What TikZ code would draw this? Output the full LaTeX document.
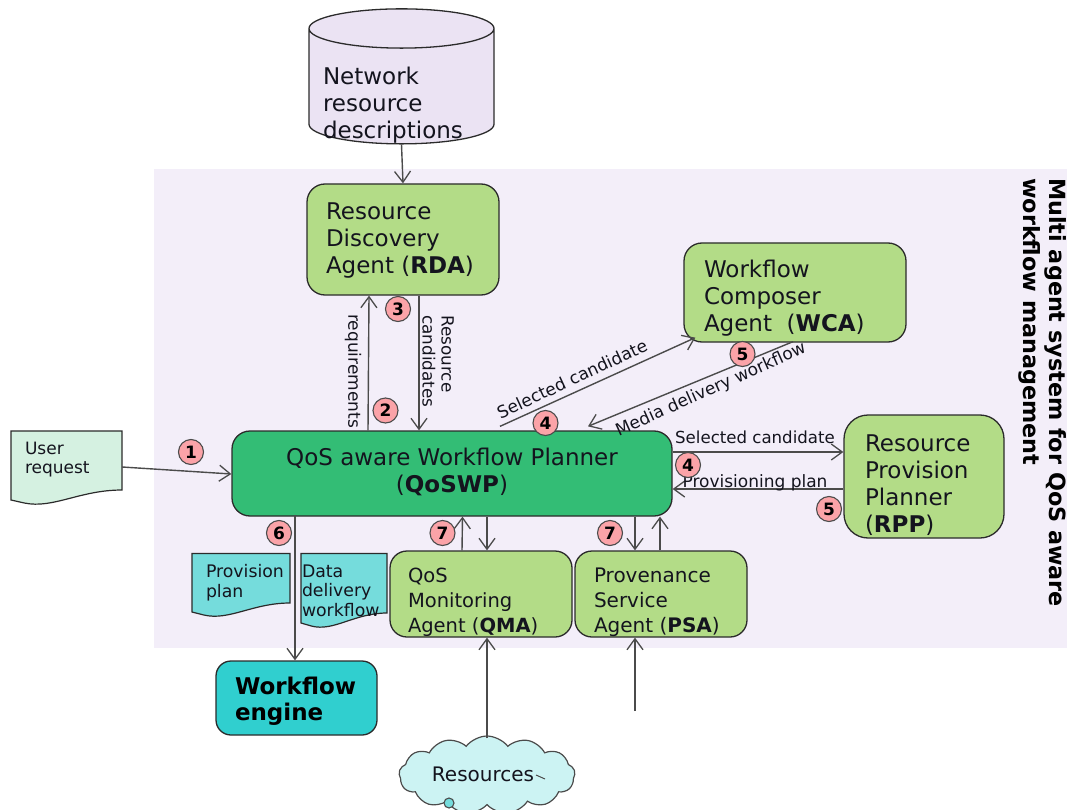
\documentclass[tikz,border=0pt]{standalone}
\usepackage{fontspec}
\setmainfont{DejaVu Sans}
\usetikzlibrary{arrows.meta,shapes.geometric,shapes.symbols}
\definecolor{bgpanel}{HTML}{F3EEF9}
\definecolor{dbfill}{HTML}{EBE3F3}
\definecolor{agentgreen}{HTML}{B3DC87}
\definecolor{plannergreen}{HTML}{33BD75}
\definecolor{enginecyan}{HTML}{30CFCF}
\definecolor{docteal}{HTML}{75DCDC}
\definecolor{docmint}{HTML}{D5F1E1}
\definecolor{cloudfill}{HTML}{CCF3F3}
\definecolor{badgepink}{HTML}{FBA3A8}
\definecolor{ink}{HTML}{2B2B2B}
\definecolor{txt}{HTML}{14141E}
\newcommand\fs[2]{\fontsize{#1}{#2}\selectfont}
% left aligned block: vertical shift, width, lines
\newcommand\tb[3]{\raisebox{#1pt}[0pt][0pt]{\makebox[#2pt][l]{\begin{tabular}[c]{@{}l@{}}#3\end{tabular}}}}
\newcommand\tbc[2]{\raisebox{#1pt}[0pt][0pt]{\makebox[0pt][c]{\begin{tabular}[c]{@{}c@{}}#2\end{tabular}}}}
\newcommand\docpath[6]{\draw[docline,fill=#6] (#1,#2) -- (#3,#2) -- (#3,#4) .. controls ({#1+0.62*(#3-#1)},#4) and ({#1+0.38*(#3-#1)},{#5+9}) .. ({#1+0.12*(#3-#1)},{#5+3}) -- (#1,#5) -- cycle;}
\tikzset{
  basebox/.style={draw=ink,line width=1.3pt,inner sep=0pt,text=txt},
  agent/.style={basebox,rounded corners=18pt,fill=agentgreen,font=\fs{23}{27}},
  smallagent/.style={basebox,rounded corners=17pt,fill=agentgreen,font=\fs{20}{25}},
  docline/.style={draw=ink,line width=1.2pt},
  doctext/.style={inner sep=0pt,text=txt,font=\fs{17.3}{19.5}},
  conn/.style={draw=ink!85,line width=1.4pt,-{Straight Barb[length=11pt,width=16pt,line width=1.3pt]}},
  edgelabel/.style={inner sep=0pt,text=txt,font=\fs{16.6}{19}},
  badge/.style={circle,draw=ink!85,line width=1.1pt,fill=badgepink,minimum size=25pt,inner sep=0pt,text=black,font=\fs{17}{17}\bfseries},
}
\begin{document}
\begin{tikzpicture}[x=1pt,y=-1pt]
\useasboundingbox (0,0) rectangle (1067,810);
\clip (0,0) rectangle (1067,810);
\fill[bgpanel] (154,169) rectangle (1067,648);

% data store
\node[cylinder,shape border rotate=90,aspect=0.25,draw=ink,line width=1.3pt,fill=dbfill,minimum width=185pt,minimum height=135pt,inner sep=0pt,text=txt,font=\fs{23}{27}] (db) at (401.5,86.5) {\tb{-26}{157}{Network\\resource\\descriptions}};

% agents
\node[agent,minimum width=192pt,minimum height=111pt] (rda) at (403,239.5) {\tb{-8}{154}{Resource\\Discovery\\Agent (\textbf{RDA})}};
\node[agent,minimum width=222pt,minimum height=99pt] (wca) at (795,292.5) {\tb{-13}{182}{Workflow\\Composer\\Agent\ \ (\textbf{WCA})}};
\node[agent,rounded corners=24pt,minimum width=160pt,minimum height=123pt] (rpp) at (924,476.5) {\tb{-16}{118}{Resource\\Provision\\Planner\\(\textbf{RPP})}};
\node[basebox,rounded corners=18pt,fill=plannergreen,font=\fs{23}{27},minimum width=440pt,minimum height=85pt] (qos) at (452,473.5) {\tbc{-6}{QoS aware Workflow Planner\\(\textbf{QoSWP})}};
\node[smallagent,font=\fs{19.5}{25},minimum width=182pt,minimum height=86pt] (qma) at (481,594) {\tb{-14}{146}{QoS\\Monitoring\\Agent (\textbf{QMA})}};
\node[smallagent,minimum width=172pt,minimum height=86pt] (psa) at (661,594) {\tb{-14}{134}{Provenance\\Service\\Agent (\textbf{PSA})}};
\node[basebox,rounded corners=15pt,fill=enginecyan,font=\fs{23}{26}\bfseries,minimum width=161pt,minimum height=74pt,text=black] (eng) at (296.5,698) {\tb{-11}{123}{Workflow\\engine}};

% documents
\docpath{11}{431}{122}{490}{500}{docmint}
\node[doctext,minimum width=111pt,minimum height=72pt,font=\fs{17}{19}] (ur) at (66.5,467) {\tb{2}{83}{User\\request}};
\docpath{192}{553.5}{290}{603}{612}{docteal}
\node[doctext,minimum width=98pt,minimum height=62pt] (pp) at (241,584) {\tb{-4}{70}{Provision\\plan}};
\docpath{301}{553.5}{387}{613}{623}{docteal}
\node[doctext,minimum width=86pt,minimum height=73pt] (dd) at (344,590) {\tb{-7}{84}{Data\\delivery\\workflow}};

% resources
\node[cloud,cloud puffs=13,cloud puff arc=105,aspect=2.1,draw=ink!85,line width=1.2pt,fill=cloudfill,minimum width=176pt,minimum height=78pt,inner sep=0pt,text=txt,font=\fs{20}{24}] (res) at (487,775) {\raisebox{2pt}{\hspace*{-8pt}Resources}};
\node[circle,draw=ink!85,line width=1.1pt,fill=docteal,minimum size=10pt,inner sep=0pt] (dot) at (449,803) {};
\draw[ink!85,line width=1pt] ([xshift=49,yshift=0]res.center) -- ([xshift=58,yshift=-4]res.center);
\coordinate (psafree) at (635,711);

% connectors
\draw[conn] (db.south) -- (rda.north);
\draw[conn] (ur.east) -- ([yshift=-0.5pt]qos.west);
\draw[conn] ([xshift=-84]qos.north) -- ([xshift=-34]rda.south);
\draw[conn] ([xshift=16]rda.south) -- ([xshift=-33]qos.north);
\draw[conn] ([xshift=48,yshift=4]qos.north) -- ([xshift=12,yshift=5]wca.south west);
\draw[conn] ([xshift=-2,yshift=1]wca.south) -- ([xshift=136,yshift=4]qos.north);
\draw[conn] ([yshift=21.5]qos.east) -- ([yshift=24.5]rpp.west);
\draw[conn] ([yshift=-12.5]rpp.west) -- ([yshift=-15.5]qos.east);
\draw[conn] ([xshift=-157,yshift=2]qos.south) -- ([xshift=-1.5]eng.north);
\draw[conn] ([xshift=-19]qma.north) -- ([xshift=10.5]qos.south);
\draw[conn] ([xshift=35]qos.south) -- ([xshift=6]qma.north);
\draw[conn] ([xshift=183]qos.south) -- ([xshift=-26]psa.north);
\draw[conn] ([xshift=-1]psa.north) -- ([xshift=208]qos.south);
\draw[conn] ([xshift=0,yshift=-3]res.north) -- ([xshift=6]qma.south);
\draw[conn] (psafree) -- ([xshift=-26]psa.south);

% connector labels
\node[edgelabel,rotate=-90,font=\fs{17}{19}] (lreq) at (353,371) {requirements};
\node[edgelabel,rotate=-90,font=\fs{16.8}{19}] (lcand) at (436,361.5) {\begin{tabular}{@{}l@{}}Resource\\candidates\end{tabular}};
\node[edgelabel,rotate=25,font=\fs{17}{19}] (lsel) at (572,379) {Selected candidate};
\node[edgelabel,rotate=24.2,font=\fs{17}{19}] (lmedia) at (711,390) {Media delivery workflow};
\node[edgelabel] (lsel2) at (755,437) {Selected candidate};
\node[edgelabel,font=\fs{17}{19}] (lprov) at (755,483) {Provisioning plan};

% title of the panel
\node[rotate=-90,anchor=north west,inner sep=0pt,align=left,text=black,font=\fs{22.3}{26}\bfseries] (title) at (1067,178) {Multi agent system for QoS aware\\workflow management};

% step badges
\node[badge] (b1) at (191,452) {1};
\node[badge] (b2) at (385.5,410.5) {2};
\node[badge] (b3) at (398,309) {3};
\node[badge] (b4a) at (545.5,423) {4};
\node[badge] (b5a) at (742.5,354) {5};
\node[badge] (b4b) at (688,465) {4};
\node[badge] (b5b) at (829,509) {5};
\node[badge] (b6) at (279,533) {6};
\node[badge] (b7a) at (442.5,533) {7};
\node[badge] (b7b) at (610,533) {7};
\end{tikzpicture}
\end{document}
